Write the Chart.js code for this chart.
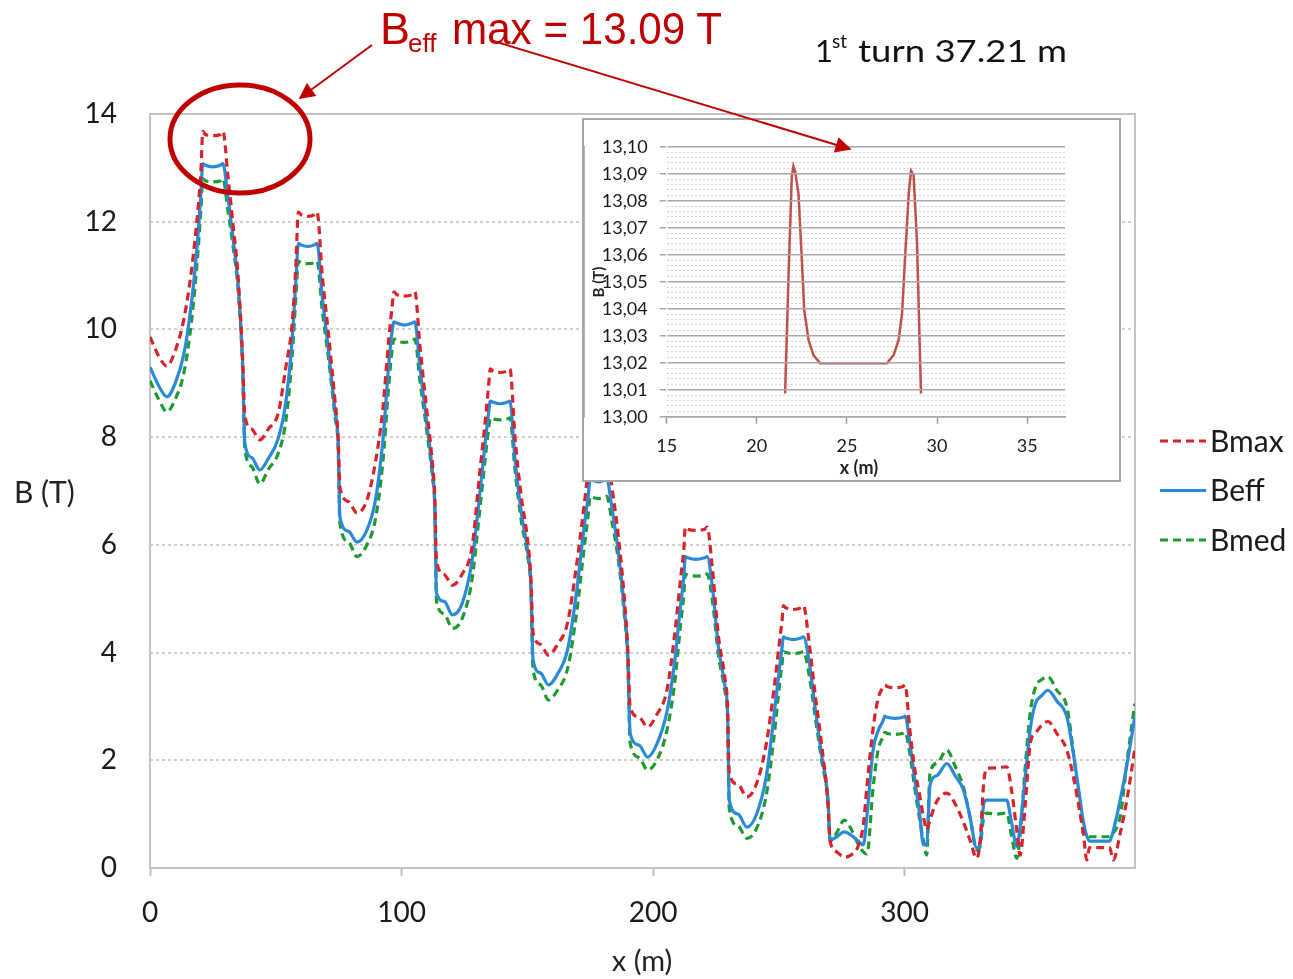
<!DOCTYPE html>
<html>
<head>
<meta charset="utf-8">
<script src="https://cdn.jsdelivr.net/npm/chart.js@4.4.0/dist/chart.umd.min.js"></script>
<style>
  html, body { margin: 0; padding: 0; background: #fff; }
  #page { position: relative; width: 1293px; height: 979px; overflow: hidden; }
  #mainChart { position: absolute; left: 0; top: 0; }
  #insetBox { position: absolute; left: 582px; top: 118px; width: 535px; height: 360px;
              border: 2px solid #a6a6a6; background: #fff; }
  #insetChart { display: block; }
  #notes { position: absolute; left: 0; top: 0; pointer-events: none; }
</style>
</head>
<body>
<div id="page">
  <canvas id="mainChart" width="1293" height="979"></canvas>
  <div id="insetBox"><canvas id="insetChart" width="535" height="360"></canvas></div>
  <svg id="notes" width="1293" height="979">
    <defs>
      <marker id="ah" viewBox="0 0 10 10" refX="9" refY="5" markerWidth="9" markerHeight="8" orient="auto">
        <path d="M0,0 L10,5 L0,10 z" fill="#c00000"/>
      </marker>
    </defs>
    <!-- circle round the first peak -->
    <ellipse cx="240" cy="139" rx="70" ry="54" fill="none" stroke="#c00000" stroke-width="5"/>
    <line x1="372" y1="45" x2="300" y2="98" stroke="#c00000" stroke-width="2" marker-end="url(#ah)"/>
    <line x1="490" y1="40" x2="850" y2="149" stroke="#c00000" stroke-width="2" marker-end="url(#ah)"/>
    <text x="380" y="44" font-family="Liberation Sans, Arial, sans-serif" font-size="45" fill="#c00000">B</text>
    <text x="408" y="52" font-family="Liberation Sans, Arial, sans-serif" font-size="26" fill="#c00000">eff</text>
    <text x="452" y="44" font-family="Liberation Sans, Arial, sans-serif" font-size="45" fill="#c00000"
          textLength="270" lengthAdjust="spacingAndGlyphs">max = 13.09 T</text>
    <text x="815" y="62" font-family="Lato, sans-serif" font-size="31" fill="#111">1</text>
    <text x="832" y="48" font-family="Lato, sans-serif" font-size="19" fill="#111">st</text>
    <text x="858" y="62" font-family="Lato, sans-serif" font-size="31" fill="#111"
          textLength="209" lengthAdjust="spacingAndGlyphs">turn 37.21 m</text>
    <!-- main axis titles -->
    <text x="14" y="503" font-family="Lato, sans-serif" font-size="30" fill="#222">B (T)</text>
    <text x="642" y="971" text-anchor="middle" font-family="Lato, sans-serif" font-size="29" fill="#222">x (m)</text>
    <!-- inset axis titles -->
    <text x="859" y="474" text-anchor="middle" font-family="Lato, sans-serif" font-size="18" font-weight="bold" fill="#222">x (m)</text>
    <text transform="translate(604,282) rotate(-90)" text-anchor="middle" font-family="Lato, sans-serif" font-size="15" font-weight="bold" fill="#222">B (T)</text>
  </svg>
</div>
<script>
// x positions along the path (m)
const xPos = [
  0, 3.5, 6.7, 10, 13.5, 16.5, 19, 20.2,
  21, 22, 25, 28, 29,
  31, 33, 35, 36.8, 37.7,
  40.5, 43.7, 47, 51, 54, 56.5, 58,
  59, 60, 62.7, 65.4, 66.4,
  68.5, 71, 73.5, 74.8, 75.5,
  79, 82.3, 86, 89.5, 92.5, 95, 96.2,
  97, 98, 101, 104.3, 105.3,
  107.3, 109.8, 112.3, 113.2, 113.9,
  117, 120.2, 124, 128, 131, 133.5, 134.6,
  135.3, 136.3, 139.2, 142.1, 143.1,
  145.1, 147.6, 150.1, 151.4, 152.3,
  155.3, 158.4, 162, 166, 169.5, 172.5, 174.2,
  175, 176, 178.3, 180.6, 181.6,
  183.6, 186.1, 188.6, 189.9, 190.9,
  194.5, 197.8, 201.5, 205.5, 208.5, 211, 212.2,
  212.8, 213.8, 217, 220.5, 221.5,
  223.5, 226, 228.5, 229.6, 230.3,
  233.8, 237.3, 241, 245, 248, 250.5, 251.3,
  251.8, 252.8, 255.8, 258.8, 259.8,
  262, 264.5, 267, 269.5, 270.4,
  273, 276, 279, 281.5, 283.6, 285, 287.5, 289.5, 291.3,
  292.2, 293, 296.2, 299.4, 300.2,
  302, 304, 306, 307.5, 308.8, 310.1, 313, 316.8, 320, 323.4, 326, 328.7, 330, 331.5, 332.7,
  336.5, 340.6, 342.5, 344.6, 345.9, 348, 350, 352, 354.5, 357, 360.5, 364.5, 367.5, 369.8,
  371.1, 372.4, 373.5, 377.5, 381.5, 383, 385.7, 388.5, 391.5
];

const bMax = [
  9.86, 9.5, 9.32, 9.6, 10.2, 11.1, 12.2, 12.9,
  13.68, 13.62, 13.6, 13.62, 13.68,
  12.84, 11.95, 11.0, 9.5, 8.4,
  8.15, 7.95, 8.15, 8.45, 9.3, 10.1, 11.2,
  12.18, 12.13, 12.1, 12.13, 12.18,
  11.0, 9.9, 8.7, 8.0, 7.07,
  6.8, 6.59, 6.8, 7.5, 8.5, 9.85, 10.4,
  10.7, 10.65, 10.62, 10.65, 10.7,
  9.7, 8.6, 7.5, 6.9, 5.7,
  5.45, 5.25, 5.45, 5.95, 7.3, 8.4, 8.95,
  9.27, 9.23, 9.2, 9.23, 9.27,
  8.0, 6.9, 6.1, 5.4, 4.36,
  4.15, 3.95, 4.15, 4.55, 5.6, 6.7, 7.4,
  7.82, 7.78, 7.76, 7.78, 7.82,
  7.1, 6.2, 5.0, 4.1, 2.99,
  2.8, 2.62, 2.85, 3.3, 4.3, 5.4, 5.9,
  6.33, 6.29, 6.27, 6.29, 6.33,
  5.6, 4.3, 3.55, 3.0, 1.76,
  1.55, 1.32, 1.55, 2.3, 3.3, 4.3, 4.6,
  4.87, 4.83, 4.8, 4.83, 4.87,
  4.2, 3.2, 2.3, 1.2, 0.5,
  0.3, 0.2, 0.25, 0.4, 0.8, 1.5, 2.6, 3.15, 3.35,
  3.4, 3.37, 3.35, 3.37, 3.4,
  2.6, 1.85, 1.35, 0.95, 0.71, 0.9, 1.25, 1.39, 1.2, 0.85, 0.52, 0.18, 0.5, 1.6, 1.85,
  1.86, 1.88, 1.45, 0.7, 0.24, 1.2, 2.32, 2.5, 2.65, 2.72, 2.5, 2.19, 1.6, 1.0,
  0.64, 0.15, 0.38, 0.38, 0.38, 0.15, 0.64, 1.3, 2.2
];

const bEff = [
  9.3, 8.95, 8.75, 9.0, 9.55, 10.5, 11.7, 12.5,
  13.08, 13.05, 13.02, 13.05, 13.08,
  12.45, 11.7, 10.85, 9.4, 7.89,
  7.62, 7.39, 7.6, 7.98, 8.65, 9.8, 10.9,
  11.6, 11.57, 11.54, 11.57, 11.6,
  10.6, 9.6, 8.5, 7.9, 6.52,
  6.25, 6.05, 6.25, 6.8, 7.9, 9.4, 9.95,
  10.14, 10.12, 10.08, 10.12, 10.14,
  9.3, 8.35, 7.35, 6.8, 5.1,
  4.95, 4.7, 4.9, 5.7, 6.9, 8.0, 8.45,
  8.67, 8.65, 8.62, 8.65, 8.67,
  7.6, 6.6, 5.9, 5.3, 3.86,
  3.62, 3.4, 3.6, 4.05, 5.1, 6.3, 6.9,
  7.22, 7.2, 7.17, 7.2, 7.22,
  6.7, 5.9, 4.8, 4.0, 2.5,
  2.28, 2.06, 2.3, 2.9, 3.8, 4.9, 5.4,
  5.78, 5.76, 5.73, 5.76, 5.78,
  5.25, 4.1, 3.4, 2.9, 1.26,
  1.0, 0.76, 0.98, 1.7, 2.8, 3.8, 4.1,
  4.29, 4.27, 4.24, 4.27, 4.29,
  3.85, 2.95, 2.1, 1.3, 0.52,
  0.58, 0.67, 0.6, 0.5, 0.43, 0.95, 2.2, 2.55, 2.72,
  2.82, 2.8, 2.78, 2.8, 2.82,
  2.35, 1.65, 1.0, 0.43, 0.45, 1.54, 1.72, 1.94, 1.72, 1.45, 0.95, 0.37, 0.45, 1.2, 1.26,
  1.26, 1.26, 0.85, 0.4, 0.75, 1.7, 2.6, 3.05, 3.2, 3.3, 3.1, 2.81, 2.0, 1.26,
  0.85, 0.6, 0.5, 0.5, 0.5, 0.7, 1.26, 1.95, 2.8
];

const bMed = [
  9.05, 8.7, 8.47, 8.7, 9.2, 10.15, 11.4, 12.2,
  12.8, 12.76, 12.74, 12.76, 12.8,
  12.2, 11.55, 10.75, 9.3, 7.8,
  7.45, 7.13, 7.4, 7.7, 8.3, 9.5, 10.6,
  11.27, 11.24, 11.22, 11.24, 11.27,
  10.35, 9.45, 8.4, 7.8, 6.4,
  6.05, 5.78, 5.98, 6.45, 7.5, 9.0, 9.6,
  9.82, 9.79, 9.76, 9.79, 9.82,
  9.05, 8.2, 7.25, 6.7, 4.95,
  4.72, 4.45, 4.62, 5.35, 6.6, 7.7, 8.15,
  8.36, 8.34, 8.32, 8.34, 8.36,
  7.4, 6.45, 5.8, 5.2, 3.68,
  3.4, 3.12, 3.3, 3.7, 4.7, 5.9, 6.55,
  6.9, 6.88, 6.86, 6.88, 6.9,
  6.45, 5.75, 4.7, 3.9, 2.32,
  2.05, 1.82, 2.0, 2.55, 3.4, 4.55, 5.05,
  5.46, 5.44, 5.42, 5.44, 5.46,
  5.0, 3.95, 3.3, 2.8, 1.1,
  0.78, 0.55, 0.72, 1.35, 2.4, 3.5, 3.8,
  4.02, 4.0, 3.98, 4.0, 4.02,
  3.6, 2.8, 2.0, 1.25, 0.5,
  0.65, 0.89, 0.7, 0.45, 0.3, 0.26, 1.5, 2.2, 2.42,
  2.52, 2.5, 2.48, 2.5, 2.52,
  2.15, 1.5, 0.9, 0.5, 0.24, 1.76, 1.95, 2.19, 1.9, 1.5, 0.95, 0.33, 0.4, 0.95, 1.02,
  1.0, 1.02, 0.6, 0.18, 0.6, 1.9, 2.9, 3.35, 3.5, 3.55, 3.3, 2.99, 2.0, 1.1,
  0.64, 0.6, 0.58, 0.58, 0.58, 0.65, 0.95, 2.0, 3.05
];

const mainXTicks = [0, 100, 200, 300];
const mainYTicks = [0, 2, 4, 6, 8, 10, 12, 14];

// zoom on the first peak (Beff only)
const insetX = [21.57, 21.76, 21.94, 22.03, 22.13, 22.31, 22.5, 22.63, 22.87, 23.14, 23.52,
                27.22, 27.59, 27.87, 28.06, 28.24, 28.43, 28.56, 28.70, 28.89, 29.11];
const insetB = [13.0086, 13.0519, 13.0889, 13.0928, 13.0907, 13.0827, 13.058, 13.0395, 13.0284, 13.0228, 13.0198,
                13.0198, 13.0228, 13.0284, 13.0383, 13.0605, 13.0827, 13.0911, 13.0895, 13.0642, 13.0086];
const insetXTicks = [15, 20, 25, 30, 35];
const insetYTicks = [13.00, 13.01, 13.02, 13.03, 13.04, 13.05, 13.06, 13.07, 13.08, 13.09, 13.10];

const toPoints = (xs, ys) => xs.map((x, i) => ({ x: x, y: ys[i] }));

// grey box round the plot area
const frame = {
  id: 'frame',
  beforeDatasetsDraw(chart, args, opts) {
    const { ctx, chartArea: a } = chart;
    ctx.save();
    ctx.strokeStyle = opts.color;
    ctx.lineWidth = opts.width;
    ctx.strokeRect(a.left, a.top, a.right - a.left, a.bottom - a.top);
    ctx.restore();
  }
};

// legend at the right, drawn from the datasets
const sideLegend = {
  id: 'sideLegend',
  afterDraw(chart, args, opts) {
    const ctx = chart.ctx;
    ctx.save();
    ctx.font = opts.font;
    ctx.textBaseline = 'middle';
    chart.data.datasets.forEach((ds, i) => {
      const y = opts.top + i * opts.gap;
      ctx.strokeStyle = ds.borderColor;
      ctx.lineWidth = ds.borderWidth;
      ctx.setLineDash(ds.borderDash || []);
      ctx.beginPath();
      ctx.moveTo(opts.left, y);
      ctx.lineTo(opts.left + opts.len, y);
      ctx.stroke();
      ctx.setLineDash([]);
      ctx.fillStyle = opts.color;
      ctx.fillText(ds.label, opts.left + opts.len + 4, y + 1);
    });
    ctx.restore();
  }
};

const tickFont = { family: 'Lato, sans-serif', size: 28 };

new Chart(document.getElementById('mainChart'), {
  type: 'line',
  data: {
    datasets: [
      { label: 'Bmax', data: toPoints(xPos, bMax), borderColor: '#d7242b', borderWidth: 3.2, borderDash: [8, 5] },
      { label: 'Beff', data: toPoints(xPos, bEff), borderColor: '#2b8ad6', borderWidth: 3.2 },
      { label: 'Bmed', data: toPoints(xPos, bMed), borderColor: '#1f9a2e', borderWidth: 3.2, borderDash: [8, 5] }
    ]
  },
  options: {
    responsive: false,
    animation: false,
    devicePixelRatio: 1,
    layout: { padding: { left: 0, top: 114, right: 158, bottom: 0 } },
    elements: {
      point: { radius: 0 },
      line: { cubicInterpolationMode: 'monotone', fill: false }
    },
    scales: {
      x: {
        type: 'linear',
        min: 0,
        max: 391.6,
        afterBuildTicks: s => { s.ticks = mainXTicks.map(v => ({ value: v })); },
        afterFit: s => { s.height = 111; },
        grid: { drawOnChartArea: false, tickLength: 8, tickColor: '#bfbfbf', tickWidth: 2 },
        border: { display: false },
        ticks: { font: tickFont, color: '#1a1a1a', padding: 20, maxRotation: 0 }
      },
      y: {
        min: 0,
        max: 14,
        afterBuildTicks: s => { s.ticks = mainYTicks.map(v => ({ value: v })); },
        afterFit: s => { s.width = 150; },
        grid: {
          drawTicks: false,
          lineWidth: 2,
          color: c => (c.tick && (c.tick.value === 0 || c.tick.value === 14)) ? 'rgba(0,0,0,0)' : '#cfcfcf'
        },
        border: { display: false, dash: [3, 3] },
        ticks: { font: tickFont, color: '#1a1a1a', padding: 33 }
      }
    },
    plugins: {
      legend: { display: false },
      tooltip: { enabled: false },
      frame: { color: '#c4c4c4', width: 2 },
      sideLegend: { left: 1160, top: 441, gap: 49.5, len: 46, font: '30px Lato, sans-serif', color: '#1a1a1a' }
    }
  },
  plugins: [frame, sideLegend]
});

const insetFont = { family: 'Lato, sans-serif', size: 18 };

new Chart(document.getElementById('insetChart'), {
  type: 'line',
  data: {
    datasets: [
      { label: 'Beff', data: toPoints(insetX, insetB), borderColor: '#c0504d', borderWidth: 2.5, tension: 0 }
    ]
  },
  options: {
    responsive: false,
    animation: false,
    devicePixelRatio: 1,
    layout: { padding: { left: 0, top: 26.7, right: 54, bottom: 0 } },
    elements: { point: { radius: 0 } },
    scales: {
      x: {
        type: 'linear',
        min: 15,
        max: 37.1,
        afterBuildTicks: s => { s.ticks = insetXTicks.map(v => ({ value: v })); },
        afterFit: s => { s.height = 63.3; },
        grid: { drawOnChartArea: false, tickLength: 7, tickColor: '#9a9a9a', tickWidth: 1.5 },
        border: { color: '#9a9a9a', width: 1.5 },
        ticks: { font: insetFont, color: '#1a1a1a', padding: 12, maxRotation: 0 }
      },
      y: {
        position: 'left',
        min: 13.0,
        max: 13.1,
        afterBuildTicks: s => { s.ticks = insetYTicks.map(v => ({ value: v })); },
        afterFit: s => { s.width = 82.7; },
        grid: { color: '#a8a8a8', lineWidth: 1.5, tickLength: 7, tickColor: '#a8a8a8', z: 1 },
        border: { color: '#9a9a9a', width: 1.5 },
        ticks: { font: insetFont, color: '#1a1a1a', padding: 12, callback: v => v.toFixed(2).replace('.', ',') }
      },
      yMinor: {
        position: 'left',
        min: 13.0,
        max: 13.1,
        ticks: { display: false, stepSize: 0.002 },
        grid: {
          drawTicks: false,
          lineWidth: 1,
          color: c => {
            const v = c.tick ? c.tick.value * 100 : 0;
            return Math.abs(v - Math.round(v)) < 1e-6 ? 'rgba(0,0,0,0)' : '#d4d4d4';
          }
        },
        border: { display: false, dash: [2, 2] }
      }
    },
    plugins: { legend: { display: false }, tooltip: { enabled: false } }
  }
});
</script>
</body>
</html>
